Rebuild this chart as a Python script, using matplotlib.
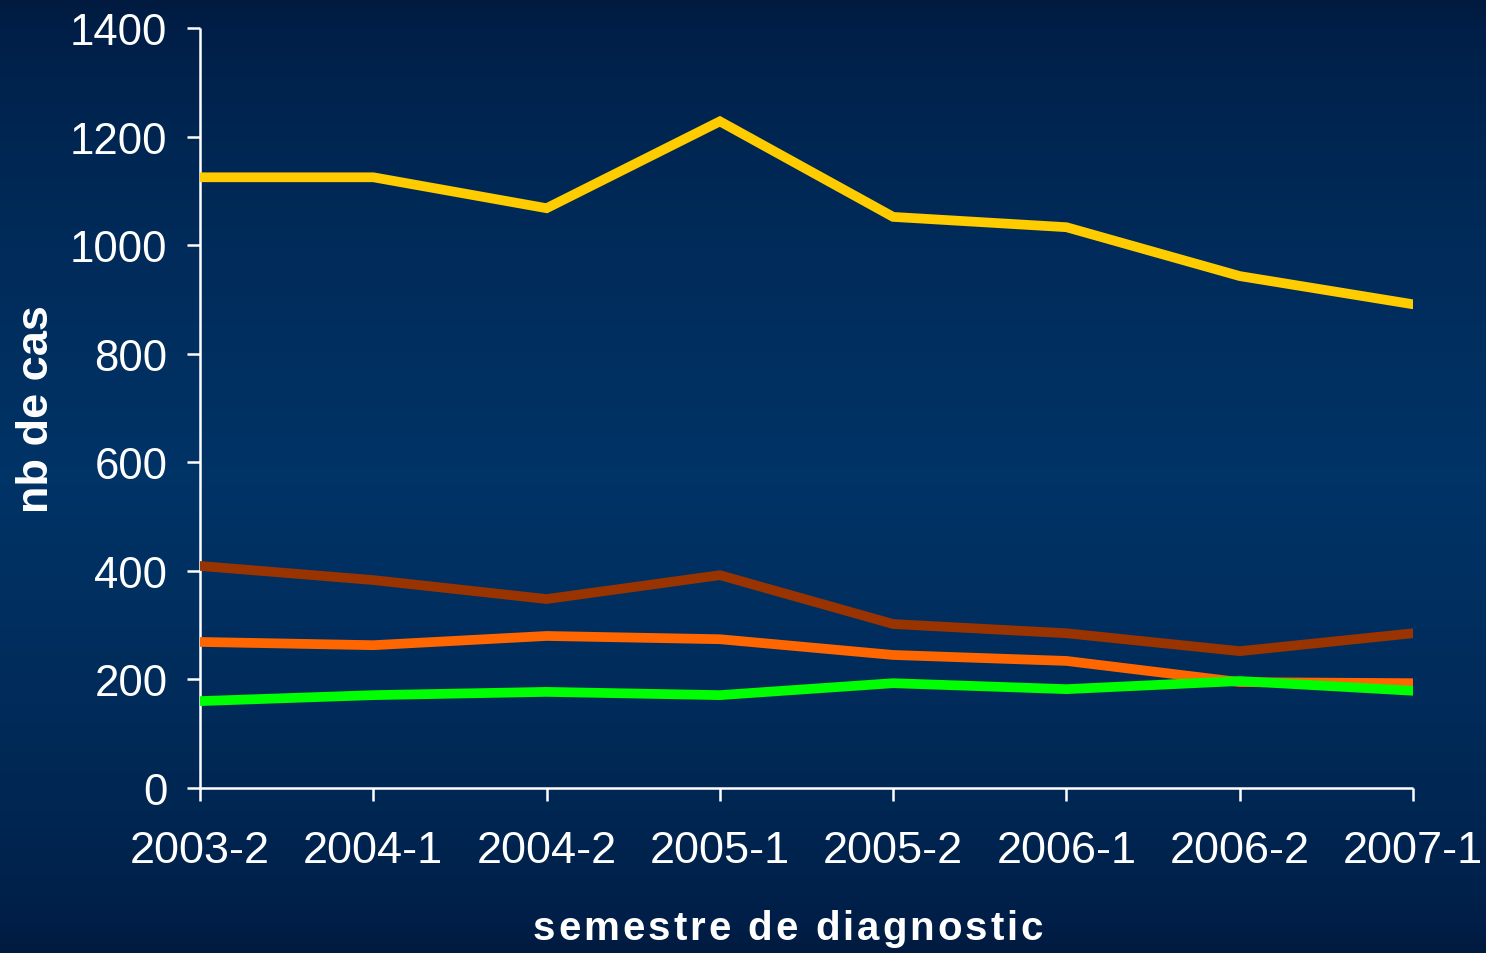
import numpy as np
import matplotlib
matplotlib.use("Agg")
import matplotlib.pyplot as plt
from matplotlib.colors import LinearSegmentedColormap
from matplotlib.font_manager import FontProperties

# data
semestres = ['2003-2', '2004-1', '2004-2', '2005-1', '2005-2', '2006-1', '2006-2', '2007-1']
serie_jaune = [1125, 1125, 1068, 1228, 1052, 1033, 943, 891]
serie_brune = [409, 383, 348, 392, 302, 285, 252, 285]
serie_orange = [269, 263, 280, 274, 245, 234, 195, 193]
serie_verte = [160, 171, 177, 171, 193, 182, 197, 179]

series = [
    (serie_jaune, '#FFCC00'),
    (serie_brune, '#993300'),
    (serie_orange, '#FF6600'),
    (serie_verte, '#00FF00'),
]

plt.rcParams['font.family'] = ['Liberation Sans', 'DejaVu Sans']

W, H = 1486, 954
fig = plt.figure(figsize=(W / 100, H / 100), dpi=100)

# background gradient: darker at top and bottom, lighter navy in the middle
bg = fig.add_axes([0, 0, 1, 1], zorder=-10)
grad = np.concatenate([np.linspace(0, 1, 50), np.linspace(1, 0, 50)]).reshape(-1, 1)
cmap = LinearSegmentedColormap.from_list('bg', ['#001a40', '#003366'])
bg.imshow(grad ** 0.6, aspect='auto', cmap=cmap, extent=[0, 1, 0, 1])
bg.axis('off')

ax = fig.add_axes([0.1346, 0.1730, 0.8163, 0.7966])
ax.patch.set_alpha(0)

x = np.arange(len(semestres))
for values, color in series:
    ax.plot(x, values, color=color, linewidth=7, solid_capstyle='round',
            solid_joinstyle='miter', zorder=3)

ax.set_xlim(0, len(semestres) - 1)
ax.set_ylim(0, 1400)
ax.set_yticks(range(0, 1401, 200))
ax.set_xticks(x)
ax.set_xticklabels(semestres)

for side in ['top', 'right']:
    ax.spines[side].set_visible(False)
for side in ['left', 'bottom']:
    ax.spines[side].set_color('white')
    ax.spines[side].set_linewidth(1.8)
    ax.spines[side].set_capstyle('butt')

ax.tick_params(axis='both', colors='white', width=1.8, length=9.5, direction='out')
ax.tick_params(axis='y', pad=14, labelsize=31.5)
ax.tick_params(axis='x', pad=21, labelsize=32.5)

ax.set_ylabel('nb de cas', color='white', fontsize=32.5,
              fontweight='bold', labelpad=9)

# x label: bold, letter-spaced like the original slide
xlabel = 'semestre de diagnostic'
prop = FontProperties(family='Liberation Sans', weight='bold', size=29)
renderer = fig.canvas.get_renderer()


def text_width(s):
    return renderer.get_text_width_height_descent(s, prop, ismath=False)[0]


bar_w = text_width('|')
offsets = [0.0] + [text_width(xlabel[:i] + '|') - bar_w for i in range(1, len(xlabel))]
target_width = 510
spacing = (target_width - text_width(xlabel)) / (len(xlabel) - 1)
x0 = 788 - target_width / 2
for i, ch in enumerate(xlabel):
    if ch == ' ':
        continue
    fig.text((x0 + offsets[i] + i * spacing) / W, 14 / H, ch, color='white',
             fontproperties=prop, ha='left', va='baseline')

fig.savefig('out.png', dpi=100)
